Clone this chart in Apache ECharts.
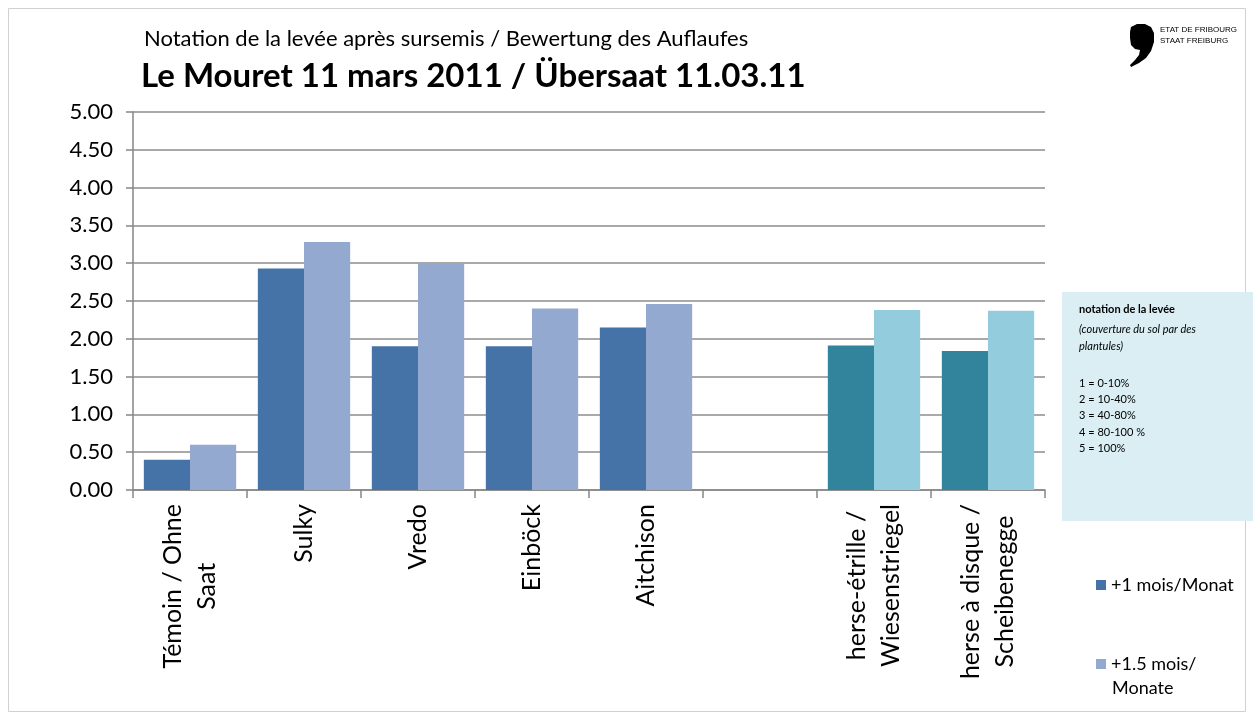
<!DOCTYPE html>
<html><head><meta charset="utf-8">
<script src="https://cdn.jsdelivr.net/npm/echarts@6/dist/echarts.min.js"></script>
<style>html,body{margin:0;padding:0;background:#fff}#c{width:1253px;height:720px}</style>
</head><body><div id="c"></div>
<script>
const categories = ['Témoin / Ohne\nSaat', 'Sulky', 'Vredo', 'Einböck', 'Aitchison', '', 'herse-étrille /\nWiesenstriegel', 'herse à disque /\nScheibenegge'];
const seriesNames = ['+1 mois/Monat', '+1.5 mois/'];
const values1 = [0.40, 2.93, 1.90, 1.90, 2.15, '-', 1.91, 1.84];
const values2 = [0.60, 3.28, 3.00, 2.40, 2.46, '-', 2.38, 2.37];
const yTicks = { min: 0, max: 5, interval: 0.5 };
const colors1 = ['#4573A7', '#4573A7', '#4573A7', '#4573A7', '#4573A7', '#4573A7', '#31849B', '#31849B'];
const colors2 = ['#93A9CF', '#93A9CF', '#93A9CF', '#93A9CF', '#93A9CF', '#93A9CF', '#93CDDD', '#93CDDD'];
const infoLines = ['1 = 0-10%', '2 = 10-40%', '3 = 40-80%', '4 = 80-100 %', '5 = 100%'];

const FONT = 'Lato, "Open Sans", sans-serif';
const chart = echarts.init(document.getElementById('c'), null, { renderer: 'canvas' });

function mk(vals, cols) {
  return vals.map((v, i) => ({ value: v, itemStyle: { color: cols[i] } }));
}

const option = {
  animation: false,
  textStyle: { fontFamily: FONT },
  title: [
    { text: 'Notation de la levée après sursemis / Bewertung des Auflaufes', left: 139, top: 23,
      textStyle: { fontFamily: FONT, fontSize: 22, fontWeight: 'normal', color: '#000' } },
    { text: 'Le Mouret 11 mars 2011 / Übersaat 11.03.11', left: 136, top: 55,
      textStyle: { fontFamily: FONT, fontSize: 33, fontWeight: 'bold', color: '#000' } }
  ],
  legend: [
    { data: [seriesNames[0]], left: 1096, top: 576, orient: 'vertical', itemWidth: 10, itemHeight: 10, itemGap: 10,
      icon: 'rect', textStyle: { fontFamily: FONT, fontSize: 18, color: '#000' }, padding: 0 },
    { data: [seriesNames[1]], left: 1096, top: 655, orient: 'vertical', itemWidth: 10, itemHeight: 10,
      icon: 'rect', textStyle: { fontFamily: FONT, fontSize: 18, color: '#000' }, padding: 0 }
  ],
  grid: { left: 133, right: 208, top: 112, bottom: 230, containLabel: false },
  xAxis: {
    type: 'category', data: categories,
    axisLine: { show: true, lineStyle: { color: '#868686', width: 1.5 } },
    axisTick: { show: true, alignWithLabel: false, length: 8, lineStyle: { color: '#868686', width: 1.5 } },
    axisLabel: {
      interval: 0, rotate: 90, margin: 14, color: '#000', fontSize: 25, fontFamily: FONT,
      formatter: function (v) { return v ? v.split('\n').map(s => '{c|' + s + '}').join('\n') : ''; },
      rich: { c: { align: 'center', fontSize: 25, fontFamily: FONT, color: '#000', lineHeight: 34 } }
    }
  },
  yAxis: {
    type: 'value', min: yTicks.min, max: yTicks.max, interval: yTicks.interval,
    axisLine: { show: true, lineStyle: { color: '#868686', width: 1.5 } },
    axisTick: { show: true, length: 7, lineStyle: { color: '#868686', width: 1.5 } },
    splitLine: { lineStyle: { color: '#8c8c8c', width: 1.5 } },
    axisLabel: { margin: 20, color: '#000', fontSize: 22, fontFamily: FONT, formatter: v => v.toFixed(2) }
  },
  series: [
    { name: seriesNames[0], type: 'bar', data: mk(values1, colors1), barGap: '0%', barCategoryGap: '19%',
      itemStyle: { color: '#4573A7' } },
    { name: seriesNames[1], type: 'bar', data: mk(values2, colors2), barGap: '0%', barCategoryGap: '19%',
      itemStyle: { color: '#93A9CF' } }
  ],
  graphic: [
    { type: 'rect', shape: { x: 8.5, y: 8.5, width: 1237, height: 703 }, style: { fill: 'none', stroke: '#d0d0d0', lineWidth: 1 }, z: -1 },
    { type: 'rect', shape: { x: 1062, y: 292, width: 191, height: 229 }, style: { fill: '#DAEEF3' } },
    { type: 'text', x: 1079, y: 304, style: { text: 'notation de la levée', font: 'bold 11px ' + FONT, fill: '#000' } },
    { type: 'text', x: 1079, y: 321, style: { text: '(couverture du sol par des\nplantules)', font: 'italic 11px ' + FONT, fill: '#000', lineHeight: 17 } },
    { type: 'text', x: 1079, y: 375, style: { text: infoLines.join('\n'), font: '11px ' + FONT, fill: '#000', lineHeight: 16.3 } },
    { type: 'text', x: 1112, y: 679, style: { text: 'Monate', font: '18px ' + FONT, fill: '#000' } },
    { type: 'polygon', shape: { points: [[1131,27],[1137,24],[1145,24],[1151,27],[1154,33],[1154,42],[1151,51],[1146,58],[1139,63],[1131,67],[1130,65],[1135,60],[1139,55],[1140,50],[1135,49],[1131,45],[1130,38],[1130,32]] }, style: { fill: '#000' } },
    { type: 'text', x: 1160, y: 24, style: { text: 'ETAT DE FRIBOURG\nSTAAT FREIBURG', font: '8px "Liberation Sans", Arial, sans-serif', fill: '#000', lineHeight: 11 } }
  ]
};
chart.setOption(option);
</script></body></html>
